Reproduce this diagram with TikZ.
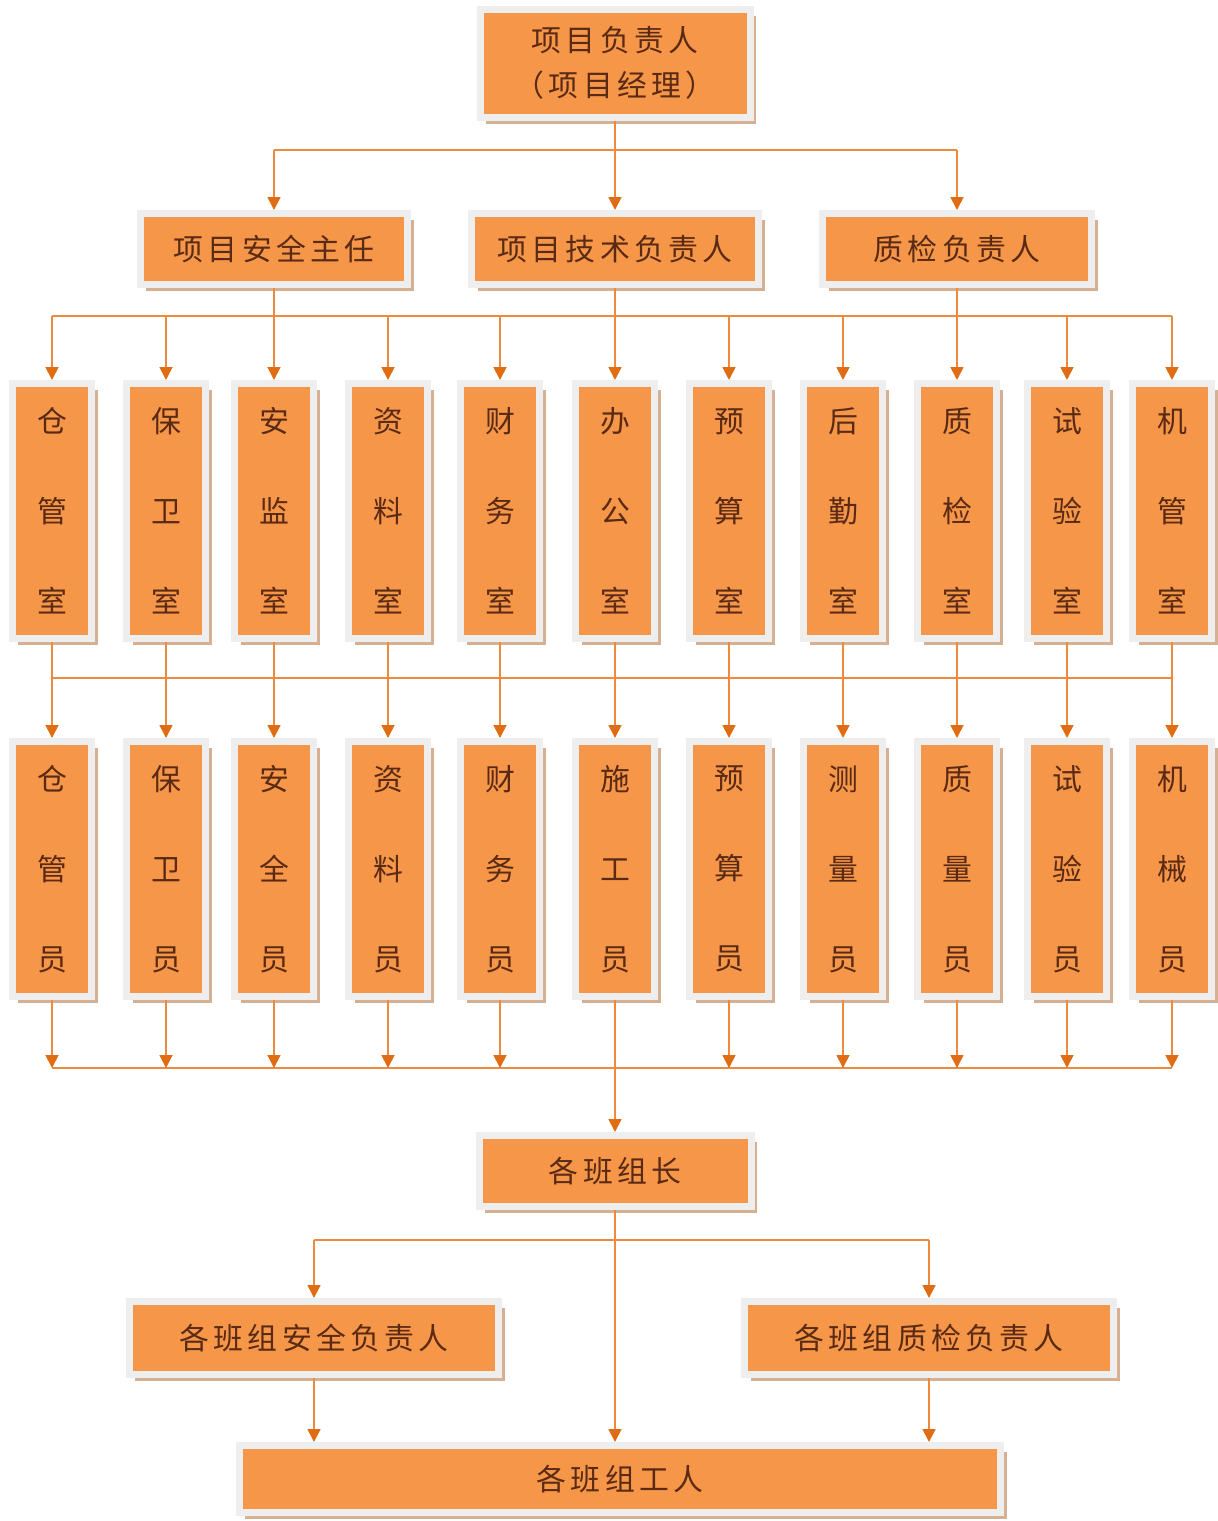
\documentclass[tikz,border=0pt]{standalone}
\usepackage{fontspec}
\setmainfont[LetterSpace=14]{Noto Sans CJK SC}
\usetikzlibrary{arrows.meta, shadows}
\definecolor{boxorange}{HTML}{F59648}
\definecolor{rimgray}{HTML}{EEEEEE}
\definecolor{shadowtan}{HTML}{D6B091}
\definecolor{linkorange}{HTML}{EE8A3E}
\definecolor{tiporange}{HTML}{E06C14}
\definecolor{textbrown}{HTML}{5A2A14}

\begin{document}
\begin{tikzpicture}[
  x=0.2mm, y=-0.2mm,
  font=\fontsize{17}{20}\selectfont,
  >={Triangle[length=2.6mm, width=2.6mm, color=tiporange]},
  box/.style={draw=rimgray, line width=1.4mm, fill=boxorange, text=textbrown,
              align=center, inner sep=0pt,
              drop shadow={shadow xshift=1.2mm, shadow yshift=-1.3mm, fill=shadowtan, opacity=1}},
  hbox/.style={box, minimum height=14.2mm},
  vbox/.style={box, minimum width=15.8mm, minimum height=51mm,
               font=\fontsize{17}{51.2}\selectfont},
  link/.style={draw=linkorange, line width=0.35mm}
]
\useasboundingbox (0,0) rectangle (1218,1521);

% leadership
\node[box, minimum width=54mm, minimum height=21.6mm,
      font=\fontsize{17}{25.6}\selectfont] (pm) at (615,63) {项目负责人\\（项目经理）};
\node[hbox, minimum width=53.4mm] (safety) at (274,249) {项目安全主任};
\node[hbox, minimum width=57.4mm] (tech) at (615,249) {项目技术负责人};
\node[hbox, minimum width=53.8mm] (qc) at (957,249) {质检负责人};

% offices
\foreach \x/\n/\t in {52/store/仓\\管\\室, 166/guard/保\\卫\\室, 274/safe/安\\监\\室,
    388/docs/资\\料\\室, 500/fin/财\\务\\室, 615/office/办\\公\\室, 729/budget/预\\算\\室,
    843/logi/后\\勤\\室, 957/qcroom/质\\检\\室, 1067/test/试\\验\\室, 1172/mach/机\\管\\室}
  \node[vbox] (\n) at (\x,511) {\t};

% staff
\foreach \x/\n/\t in {52/storeman/仓\\管\\员, 166/guardman/保\\卫\\员, 274/safeman/安\\全\\员,
    388/docsman/资\\料\\员, 500/finman/财\\务\\员, 615/builder/施\\工\\员, 729/budgetman/预\\算\\员,
    843/surveyor/测\\量\\员, 957/qcman/质\\量\\员, 1067/tester/试\\验\\员, 1172/mechanic/机\\械\\员}
  \node[vbox] (\n) at (\x,869) {\t};

% teams
\node[hbox, minimum width=54.4mm] (leader) at (615,1171) {各班组长};
\node[hbox, minimum width=73.8mm, minimum height=14.6mm] (safelead) at (314,1338) {各班组安全负责人};
\node[hbox, minimum width=73.8mm, minimum height=14.6mm] (qclead) at (929,1338) {各班组质检负责人};
\node[hbox, minimum width=152.2mm, minimum height=13.4mm] (workers) at (620,1479) {各班组工人};

\coordinate (busA) at (0,150);
\coordinate (busB) at (0,316);
\coordinate (busC) at (0,678);
\coordinate (busD) at (0,1068);
\coordinate (busE) at (0,1240);

% top level
\draw[link, ->] (pm) -- (tech);
\draw[link] (safety |- busA) -- (qc |- busA);
\draw[link, ->] (safety |- busA) -- (safety.north);
\draw[link, ->] (qc |- busA) -- (qc.north);

% to offices
\draw[link] (store |- busB) -- (mach |- busB);
\draw[link, ->] (safety) -- (safe);
\draw[link, ->] (tech) -- (office);
\draw[link, ->] (qc) -- (qcroom);
\foreach \n in {store, guard, docs, fin, budget, logi, test, mach}
  \draw[link, ->] (\n |- busB) -- (\n.north);

% offices to staff
\draw[link] (store |- busC) -- (mach |- busC);
\foreach \a/\b in {store/storeman, guard/guardman, safe/safeman, docs/docsman, fin/finman,
    office/builder, budget/budgetman, logi/surveyor, qcroom/qcman, test/tester, mach/mechanic}
  \draw[link, ->] (\a) -- (\b);

% staff to teams
\draw[link] (storeman |- busD) -- (mechanic |- busD);
\foreach \n in {storeman, guardman, safeman, docsman, finman, budgetman, surveyor, qcman, tester, mechanic}
  \draw[link, ->] (\n) -- (\n |- busD);
\draw[link, ->] (builder) -- (leader);

\draw[link, ->] (leader) -- (leader |- workers.north);
\draw[link] (safelead |- busE) -- (qclead |- busE);
\draw[link, ->] (safelead |- busE) -- (safelead.north);
\draw[link, ->] (qclead |- busE) -- (qclead.north);
\draw[link, ->] (safelead) -- (safelead |- workers.north);
\draw[link, ->] (qclead) -- (qclead |- workers.north);
\end{tikzpicture}
\end{document}
